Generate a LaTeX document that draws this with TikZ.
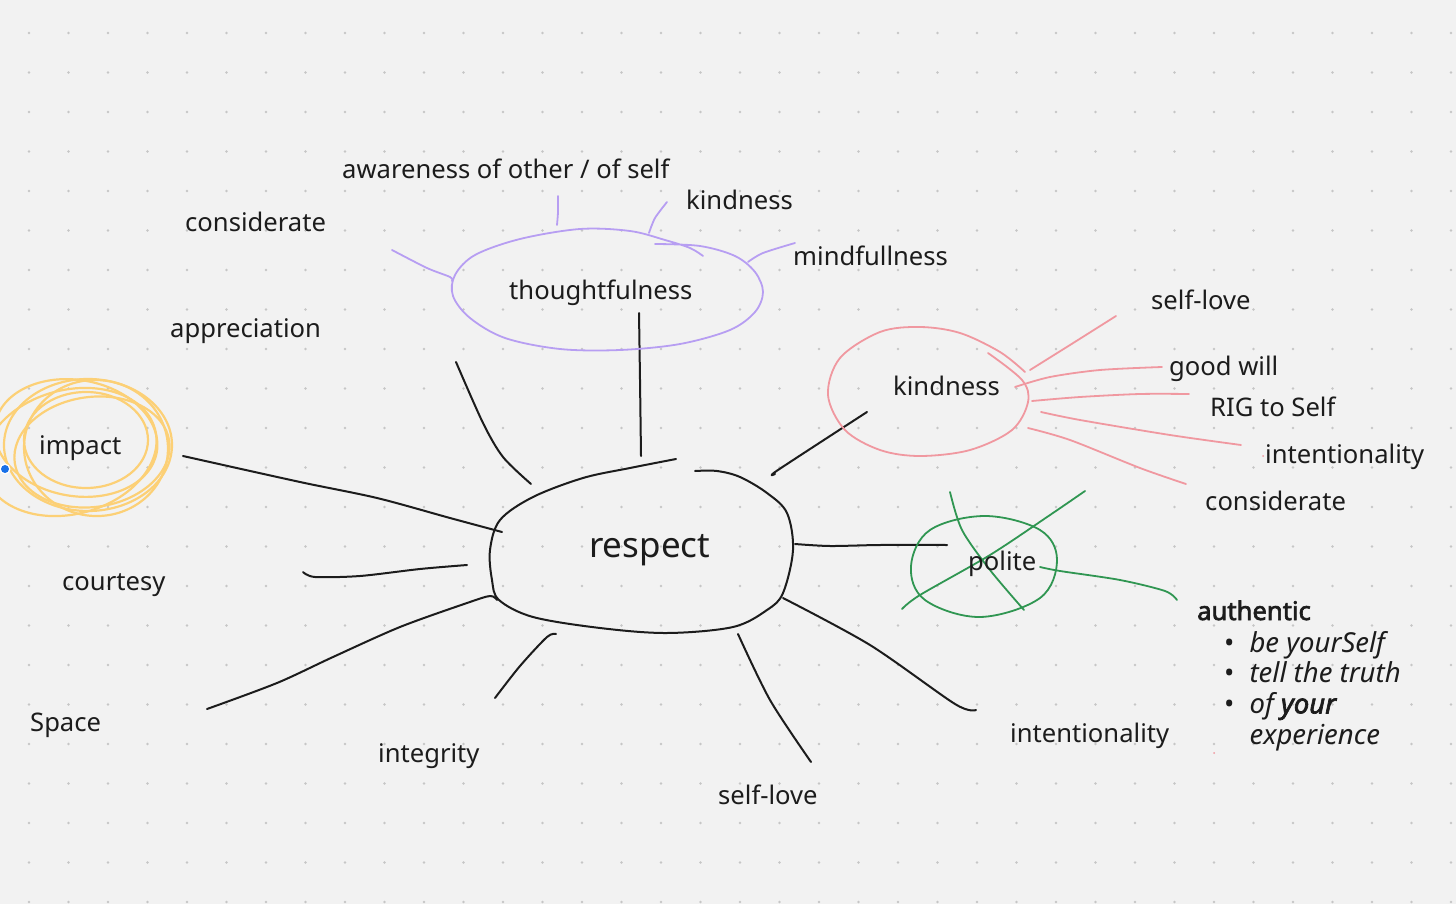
\documentclass[tikz,border=0pt]{standalone}
\usepackage{fontspec}
\setmainfont{Noto Sans}[AutoFakeBold=2.5]
\usetikzlibrary{positioning}

\definecolor{paper}{RGB}{242,242,242}
\definecolor{gridc}{RGB}{198,198,198}
\definecolor{inkc}{RGB}{28,28,28}
\definecolor{lilac}{RGB}{183,158,242}
\definecolor{rose}{RGB}{240,152,160}
\definecolor{leaf}{RGB}{48,150,82}
\definecolor{sun}{RGB}{252,208,118}
\definecolor{pinblue}{RGB}{24,112,232}

\begin{document}
\begin{tikzpicture}[
    x=1pt, y=-1pt,
    lbl/.style={inner sep=0pt, anchor=base west, text=inkc, font=\fontsize{25.6}{30.7}\selectfont},
    big/.style={lbl, font=\fontsize{35}{40}\selectfont},
    listing/.style={lbl, font=\fontsize{27.5}{30.7}\selectfont},
    ink/.style={draw=inkc, line width=2pt, line cap=round, line join=round},
    lila/.style={draw=lilac, line width=1.8pt, line cap=round},
    pink/.style={draw=rose, line width=1.8pt, line cap=round},
    green/.style={draw=leaf, line width=1.8pt, line cap=round},
    scribble/.style={draw=sun, line width=2.2pt}
  ]
  % page and dot grid
  \fill[paper] (0,0) rectangle (1456,904);
  \useasboundingbox (0,0) rectangle (1456,904);
  \foreach \i in {0,...,36}
    \foreach \j in {0,...,22}
      \fill[gridc] (29+39.5*\i, 33+39.5*\j) circle (1.3);

  % impact scribble
  \begin{scope}
    \clip (0,0) rectangle (1456,904);
    \draw[scribble] (88,445) ellipse [x radius=84, y radius=66];
    \draw[scribble, rotate around={-10:(76,438)}] (76,438) ellipse [x radius=82, y radius=58];
    \draw[scribble, rotate around={8:(92,452)}] (92,452) ellipse [x radius=78, y radius=55];
    \draw[scribble] (86,440) ellipse [x radius=62, y radius=48];
    \draw[scribble, rotate around={15:(70,452)}] (70,452) ellipse [x radius=88, y radius=62];
    \draw[scribble, rotate around={-5:(96,448)}] (96,448) ellipse [x radius=72, y radius=68];
  \end{scope}
  \fill[white] (5,469) circle (5.5);
  \fill[pinblue] (5,469) circle (4);

  % respect blob and its spokes
  \draw[ink] plot[smooth, tension=0.55] coordinates {(676,459) (630,468) (583,478) (533,497) (500,520) (490,550) (492,580) (499,600) (533,617) (600,628) (667,633) (733,627) (767,610) (783,593) (793,550) (787,513) (767,493) (740,477) (717,471) (695,471)};
  \draw[ink] plot[smooth] coordinates {(639,313) (640,380) (641,456)};
  \draw[ink] plot[smooth] coordinates {(456,362) (483,423) (503,457) (531,484)};
  \draw[ink] plot[smooth] coordinates {(183,456) (300,482) (377,498) (450,518) (502,532)};
  \draw[ink] plot[smooth] coordinates {(303,572) (315,577) (360,576) (420,569) (467,565)};
  \draw[ink] plot[smooth] coordinates {(207,709) (277,683) (333,657) (400,627) (467,603) (490,596) (497,600)};
  \draw[ink] plot[smooth] coordinates {(495,698) (520,666) (547,637) (556,634)};
  \draw[ink] plot[smooth] coordinates {(738,634) (770,700) (811,762)};
  \draw[ink] plot[smooth] coordinates {(783,598) (870,645) (955,704) (976,710)};
  \draw[ink] plot[smooth] coordinates {(795,544) (830,546) (880,545) (947,545)};
  \draw[ink] plot[smooth] coordinates {(775,474) (778,470) (867,412)};

  % thoughtfulness cluster
  \draw[lila] plot[smooth, tension=0.55] coordinates {(655,244) (700,246) (735,256) (755,272) (763,292) (755,312) (730,330) (680,344) (620,350) (560,349) (505,338) (470,318) (453,296) (455,275) (475,255) (520,239) (580,229) (630,231) (665,240) (690,248) (703,256)};
  \draw[lila] plot[smooth] coordinates {(392,250) (427,268) (450,277) (452,281)};
  \draw[lila] plot[smooth] coordinates {(558,196) (558,212) (557,225)};
  \draw[lila] plot[smooth] coordinates {(667,202) (655,218) (649,233)};
  \draw[lila] plot[smooth] coordinates {(748,262) (763,253) (795,243)};

  % kindness cluster
  \draw[pink] plot[smooth, tension=0.55] coordinates {(1025,372) (1000,352) (960,333) (920,327) (880,332) (840,358) (828,395) (845,430) (880,450) (920,456) (970,450) (1012,430) (1028,402) (1022,380) (988,353)};
  \draw[pink] plot[smooth] coordinates {(1030,370) (1070,345) (1116,316)};
  \draw[pink] plot[smooth] coordinates {(1015,387) (1050,377) (1100,370) (1162,367)};
  \draw[pink] plot[smooth] coordinates {(1032,401) (1080,397) (1140,394) (1189,394)};
  \draw[pink] plot[smooth] coordinates {(1041,412) (1080,420) (1170,435) (1241,445)};
  \draw[pink] plot[smooth] coordinates {(1028,428) (1070,440) (1140,468) (1186,484)};
  \fill[rose] (1263,456) circle (1);
  \fill[rose] (1214,753) circle (1);

  % polite, crossed out
  \draw[green] plot[smooth cycle, tension=0.6] coordinates {(985,516) (1040,530) (1057,560) (1040,598) (980,617) (925,600) (911,566) (930,530)};
  \draw[green] plot[smooth] coordinates {(950,492) (962,530) (990,570) (1024,610)};
  \draw[green] plot[smooth] coordinates {(902,609) (920,595) (990,555) (1050,515) (1085,491)};
  \draw[green] plot[smooth] coordinates {(1040,567) (1060,571) (1120,580) (1165,591) (1177,600)};

  % labels
  \node[big] (resp) at (589,557) {respect};
  \node[lbl] (thought) at (509,299) {thoughtfulness};
  \node[lbl] (aware) at (342,179) {awareness of other / of self};
  \node[lbl] (kindTop) at (686,210) {kindness};
  \node[lbl] (mind) at (793,265) {mindfullness};
  \node[lbl] (consL) at (185,231) {considerate};
  \node[lbl] (apprec) at (170,337) {appreciation};
  \node[lbl] (impact) at (39,454) {impact};
  \node[lbl] (court) at (62,590) {courtesy};
  \node[lbl] (space) at (30,731) {Space};
  \node[lbl] (integ) at (378,762) {integrity};
  \node[lbl] (selfB) at (718,804) {self-love};
  \node[lbl] (intB) at (1010,742) {intentionality};
  \node[lbl] (kind) at (893,395) {kindness};
  \node[lbl] (selfR) at (1151,309) {self-love};
  \node[lbl] (good) at (1169,375) {good will};
  \node[lbl] (rig) at (1210,416) {RIG to Self};
  \node[lbl] (intR) at (1265,463) {intentionality};
  \node[lbl] (consR) at (1205,510) {considerate};
  \node[lbl] (polite) at (968,570) {polite};
  \node[lbl] (auth) at (1197,620) {\textbf{authentic}};
  \node[listing] (items) at (1224,652) {%
    \begin{tabular}[t]{@{}l@{\hspace{15pt}}l@{}}
      • & \textit{be yourSelf}\\
      • & \textit{tell the truth}\\
      • & \textit{of {\addfontfeature{FakeBold=2.5}your}}\\
        & \textit{experience}
    \end{tabular}};
\end{tikzpicture}
\end{document}
